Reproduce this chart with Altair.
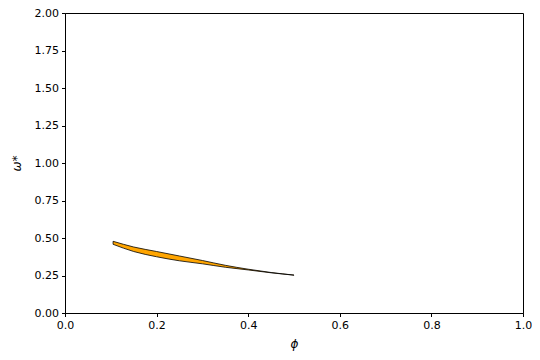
import altair as alt
import pandas as pd

phi = [0.105, 0.15, 0.2, 0.25, 0.3, 0.35, 0.4, 0.45, 0.5]
upper = [0.478, 0.44, 0.41, 0.38, 0.35, 0.318, 0.292, 0.270, 0.253]
lower = [0.458, 0.41, 0.375, 0.348, 0.328, 0.305, 0.287, 0.268, 0.252]

df = pd.DataFrame({"phi": phi, "upper": upper, "lower": lower})

axis_common = dict(
    grid=False, domainColor="black", tickColor="black", tickSize=3.5,
    labelColor="black", labelFontSize=11, labelFont="DejaVu Sans",
    titleFont="DejaVu Sans", titleFontSize=12, titleFontWeight="normal",
    titleColor="black", titleFontStyle="italic", labelPadding=3,
    labelFlush=False, labelOverlap=False,
)

chart = alt.Chart(df).mark_area(
    color="#ffa500", stroke="black", strokeWidth=0.8, fillOpacity=1,
    interpolate="monotone",
).encode(
    x=alt.X("phi:Q", scale=alt.Scale(domain=[0, 1], nice=False),
            axis=alt.Axis(title="ϕ", values=[0, 0.2, 0.4, 0.6, 0.8, 1.0], format=".1f",
                          titlePadding=8, **axis_common)),
    y=alt.Y("upper:Q", scale=alt.Scale(domain=[0, 2], nice=False),
            axis=alt.Axis(title="ω*", values=[0, 0.25, 0.5, 0.75, 1.0, 1.25, 1.5, 1.75, 2.0],
                          format=".2f", titlePadding=11, **axis_common)),
    y2="lower:Q",
).properties(
    width=458, height=300,
    autosize=alt.AutoSizeParams(type="none"),
    padding={"left": 57, "top": 5, "right": 9, "bottom": 39},
).configure_view(stroke="black", strokeWidth=1)

chart.save("out.html", embed_options={"renderer": "svg", "actions": False})
